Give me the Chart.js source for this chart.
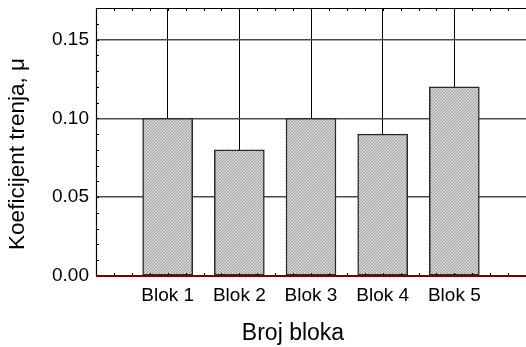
<!DOCTYPE html>
<html>
<head>
<meta charset="utf-8">
<script src="https://cdn.jsdelivr.net/npm/chart.js@4.4.1/dist/chart.umd.min.js"></script>
<style>
  html, body { margin: 0; padding: 0; background: #ffffff; }
  #wrap { width: 526px; height: 347px; }
</style>
</head>
<body>
<div id="wrap"><canvas id="c" width="526" height="347"></canvas></div>
<script>
// ---- data ----
const categories = ['Blok 1', 'Blok 2', 'Blok 3', 'Blok 4', 'Blok 5'];
const frictionValues = [0.10, 0.08, 0.10, 0.09, 0.12];
const yTickValues = [0.00, 0.05, 0.10, 0.15];
const yMinorStep = 0.01;
const xTitle = 'Broj bloka';
const yTitle = 'Koeficijent trenja, μ';

const FONT = "'Liberation Sans', Arial, Helvetica, sans-serif";

// labels padded with empty slots at both ends
const labels = [''].concat(categories, ['']);
const data = [null].concat(frictionValues, [null]);

// hatched fill pattern
function makePattern() {
  const p = document.createElement('canvas');
  p.width = 3; p.height = 3;
  const g = p.getContext('2d');
  g.fillStyle = '#d2d2d2';
  g.fillRect(0, 0, 3, 3);
  g.fillStyle = '#a0a0a0';
  for (let i = 0; i < 3; i++) g.fillRect(i, 2 - i, 1, 1);
  return g.createPattern(p, 'repeat');
}

const decor = {
  id: 'decor',
  afterDatasetsDraw(chart) {
    const ctx = chart.ctx, a = chart.chartArea;
    const xs = chart.scales.x, ys = chart.scales.y;
    ctx.save();
    ctx.strokeStyle = '#000';
    ctx.lineWidth = 1;
    ctx.beginPath();
    for (let v = yMinorStep; v < ys.max - 1e-9; v += yMinorStep) {
      const y = Math.round(ys.getPixelForValue(v)) + 0.5;
      ctx.moveTo(a.left, y); ctx.lineTo(a.left + 3, y);
    }
    for (let i = 0.25; i < labels.length - 1; i += 0.25) {
      const x = Math.round(xs.getPixelForValue(i)) + 0.5;
      ctx.moveTo(x, a.top); ctx.lineTo(x, a.top + 3);
      ctx.moveTo(x, a.bottom); ctx.lineTo(x, a.bottom - 3);
    }
    ctx.stroke();
    ctx.beginPath();
    ctx.lineWidth = 1.2;
    ctx.moveTo(a.left + 0.5, a.bottom);
    ctx.lineTo(a.left + 0.5, a.top + 0.5);
    ctx.lineTo(a.right, a.top + 0.5);
    ctx.stroke();
    ctx.beginPath();
    ctx.strokeStyle = '#7a0000';
    ctx.lineWidth = 2;
    ctx.moveTo(a.left, a.bottom);
    ctx.lineTo(a.right, a.bottom);
    ctx.stroke();
    ctx.restore();
  },
  afterDraw(chart) {
    const ctx = chart.ctx;
    ctx.save();
    ctx.fillStyle = '#000';
    ctx.textAlign = 'center';
    ctx.textBaseline = 'alphabetic';
    ctx.font = '23px ' + FONT;
    ctx.fillText(xTitle, 293, 340);
    ctx.font = '22.5px ' + FONT;
    ctx.translate(24, 154);
    ctx.rotate(-Math.PI / 2);
    ctx.fillText(yTitle, 0, 0);
    ctx.restore();
  }
};

new Chart(document.getElementById('c'), {
  type: 'bar',
  data: {
    labels: labels,
    datasets: [{
      data: data,
      backgroundColor: makePattern(),
      borderColor: '#2a2a2a',
      borderWidth: 1.5,
      borderSkipped: false,
      barThickness: 50
    }]
  },
  options: {
    responsive: false,
    animation: false,
    devicePixelRatio: 1,
    layout: { padding: { top: 8, right: 0, left: 0, bottom: 0 } },
    plugins: { legend: { display: false }, tooltip: { enabled: false } },
    scales: {
      x: {
        type: 'category',
        offset: false,
        afterFit(s) { s.height = 71; s.paddingLeft = 0; s.paddingRight = 0; },
        border: { display: false },
        grid: {
          offset: false,
          color: (c) => (c.index === 0 || c.index === labels.length - 1) ? 'rgba(0,0,0,0)' : '#000',
          lineWidth: 1,
          drawTicks: false
        },
        ticks: {
          color: '#000',
          font: { family: FONT, size: 19 },
          padding: 8,
          maxRotation: 0,
          autoSkip: false
        }
      },
      y: {
        min: 0,
        max: 0.17,
        afterFit(s) { s.width = 96; s.paddingTop = 0; s.paddingBottom = 0; },
        afterBuildTicks(s) { s.ticks = yTickValues.map(v => ({ value: v })); },
        border: { display: false },
        grid: {
          color: (c) => c.tick && c.tick.value === 0 ? 'rgba(0,0,0,0)' : '#4a4a4a',
          lineWidth: 1.5,
          drawTicks: false
        },
        ticks: {
          color: '#000',
          font: { family: FONT, size: 19 },
          padding: 7,
          callback: (v) => Number(v).toFixed(2)
        }
      }
    }
  },
  plugins: [decor]
});
</script>
</body>
</html>
